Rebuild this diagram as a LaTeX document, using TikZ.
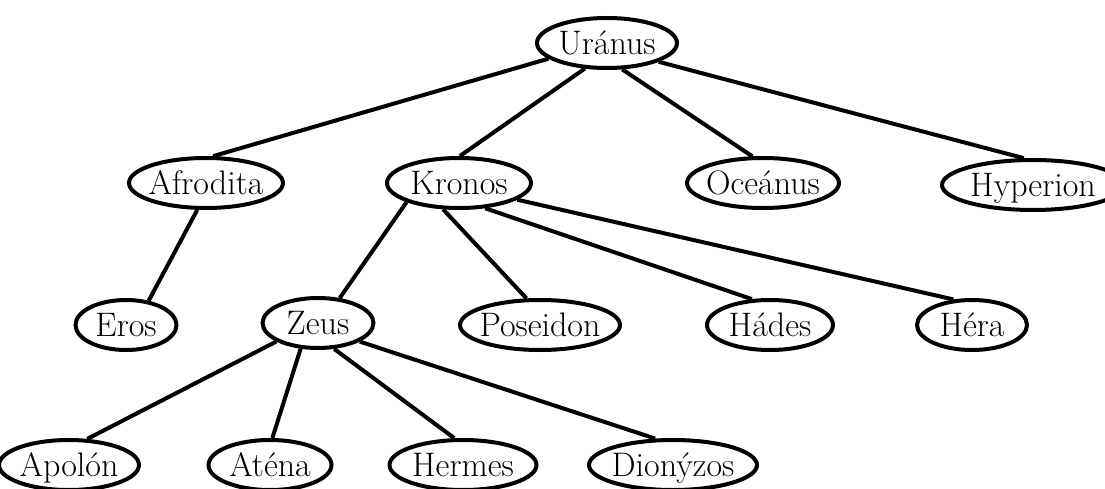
\documentclass[tikz,border=0pt]{standalone}
\usepackage{fontspec}
\usetikzlibrary{shapes.geometric}
% label set on a fixed baseline, centred, taking no room of its own
\newcommand{\godlabel}[1]{\smash{\raisebox{-11.5pt}{\makebox[0pt]{#1}}}}
\begin{document}
\begin{tikzpicture}[x=1pt,y=-1pt,
  god/.style={ellipse, draw, line width=4pt, inner sep=0pt,
    minimum height=50pt, minimum width=#1,
    font=\fontsize{34}{40}\selectfont},
  link/.style={line width=4pt}]
\useasboundingbox (0,0) rectangle (1105,489);
\clip (0,0) rectangle (1105,489);

% generations
\node[god=140pt] (uranus)   at (607,43)  {\godlabel{Uránus}};

\node[god=154pt] (afrodita) at (206,183) {\godlabel{Afrodita}};
\node[god=144pt] (kronos)   at (459,183) {\godlabel{Kronos}};
\node[god=152pt] (oceanus)  at (763,183) {\godlabel{Oceánus}};
\node[god=182pt] (hyperion) at (1033,185) {\godlabel{Hyperion}};

\node[god=101pt] (eros)     at (126,325) {\godlabel{Eros}};
\node[god=111pt] (zeus)     at (318,323) {\godlabel{Zeus}};
\node[god=160pt] (poseidon) at (540,325) {\godlabel{Poseidon}};
\node[god=126pt] (hades)    at (770,325) {\godlabel{Hádes}};
\node[god=110pt] (hera)     at (972,325) {\godlabel{Héra}};

\node[god=140pt] (apolon)   at (69,465)  {\godlabel{Apolón}};
\node[god=123pt] (atena)    at (270,465) {\godlabel{Aténa}};
\node[god=147pt] (hermes)   at (463,465) {\godlabel{Hermes}};
\node[god=168pt] (dionyzos) at (673,465) {\godlabel{Dionýzos}};

% parent -- child links
\draw[link] (uranus.195) -- (afrodita.75);
\draw[link] (uranus.229) -- (kronos.88);
\draw[link] (uranus.300) -- (oceanus.112);
\draw[link] (uranus.340) -- (hyperion.109);

\draw[link] (afrodita.252) -- (eros.47);

\draw[link] (kronos.200) -- (zeus.49);
\draw[link] (kronos.239) -- (poseidon.117);
\draw[link] (kronos.316) -- (hades.125);
\draw[link] (kronos.344) -- (hera.126);

\draw[link] (zeus.204) -- (apolon.55);
\draw[link] (zeus.236) -- (atena.85);
\draw[link] (zeus.302) -- (hermes.108);
\draw[link] (zeus.336) -- (dionyzos.124);
\end{tikzpicture}
\end{document}
